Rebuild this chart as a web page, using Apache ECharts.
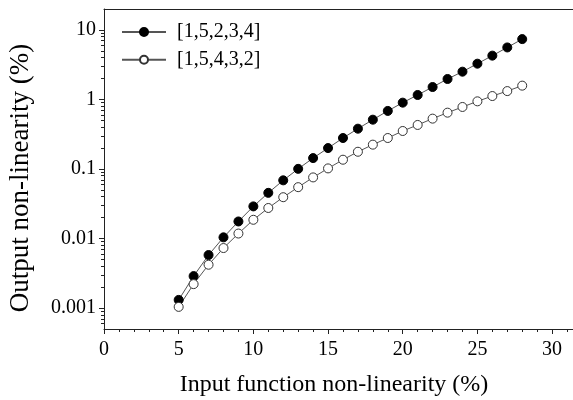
<!DOCTYPE html>
<html><head><meta charset="utf-8">
<script src="https://cdn.jsdelivr.net/npm/echarts@6/dist/echarts.min.js"></script>
<style>html,body{margin:0;padding:0;background:#fff}#c{width:573px;height:400px}</style>
</head><body><div id="c"></div>
<script>
const xValues = [5, 6, 7, 8, 9, 10, 11, 12, 13, 14, 15, 16, 17, 18, 19, 20, 21, 22, 23, 24, 25, 26, 27, 28];
const seriesA = [0.00131, 0.00288, 0.00579, 0.0104, 0.0176, 0.029, 0.0454, 0.0687, 0.1005, 0.1435, 0.200, 0.279, 0.380, 0.512, 0.684, 0.90, 1.16, 1.51, 1.97, 2.51, 3.27, 4.27, 5.60, 7.38];
const seriesB = [0.00104, 0.00221, 0.0042, 0.0073, 0.0118, 0.0186, 0.0275, 0.0393, 0.0548, 0.0757, 0.102, 0.136, 0.177, 0.224, 0.279, 0.352, 0.430, 0.530, 0.646, 0.780, 0.94, 1.12, 1.32, 1.58];
const seriesNames = ['[1,5,2,3,4]', '[1,5,4,3,2]'];
const xMajorTicks = [0, 5, 10, 15, 20, 25, 30];
const xMinorTicks = [1, 2, 3, 4, 6, 7, 8, 9, 11, 12, 13, 14, 16, 17, 18, 19, 21, 22, 23, 24, 26, 27, 28, 29, 31];
const yMajorTicks = [0.001, 0.01, 0.1, 1, 10];
const yMinorTicks = [0.0006, 0.0007, 0.0008, 0.0009,
  0.002, 0.003, 0.004, 0.005, 0.006, 0.007, 0.008, 0.009,
  0.02, 0.03, 0.04, 0.05, 0.06, 0.07, 0.08, 0.09,
  0.2, 0.3, 0.4, 0.5, 0.6, 0.7, 0.8, 0.9,
  2, 3, 4, 5, 6, 7, 8, 9];
const xTitle = 'Input function non-linearity (%)';
const yTitle = 'Output non-linearity (%)';

const FONT = 'Liberation Serif';
const AX = '#222';
const Y_MIN = 0.0005, Y_MAX = 20;
const chart = echarts.init(document.getElementById('c'), null, {renderer: 'canvas'});
const pairs = arr => xValues.map((x, i) => [x, arr[i]]);
const logVals = arr => arr.map(v => Math.log10(v));

// tick-only helper axes: linear in decades, same extent as the log axis
const tickAxis = (vals, len) => ({
  type: 'value', position: 'left', min: Math.log10(Y_MIN), max: Math.log10(Y_MAX),
  axisLine: {show: false, onZero: false},
  axisTick: {show: true, length: len, customValues: logVals(vals), lineStyle: {color: AX}},
  axisLabel: {show: false}, splitLine: {show: false}
});

chart.setOption({
  animation: false,
  backgroundColor: '#fff',
  grid: {left: 104, top: 9, bottom: 71, right: 0, containLabel: false},
  legend: {
    orient: 'vertical', left: 121, top: 22, padding: 0, itemWidth: 44, itemHeight: 10, itemGap: 7.7,
    data: seriesNames,
    textStyle: {fontFamily: FONT, fontSize: 20, color: '#000', lineHeight: 20, padding: [0, 0, 0, 6]}
  },
  xAxis: [{
    type: 'value', position: 'bottom', min: 0, max: 31.4,
    axisLine: {show: true, onZero: false, lineStyle: {color: AX, width: 1}},
    axisTick: {show: true, length: 5, customValues: xMajorTicks, lineStyle: {color: AX}},
    axisLabel: {fontFamily: FONT, fontSize: 20, color: '#000', margin: 11, customValues: xMajorTicks},
    splitLine: {show: false}
  }, {
    type: 'value', position: 'bottom', min: 0, max: 31.4,
    axisLine: {show: false, onZero: false},
    axisTick: {show: true, length: 3, customValues: xMinorTicks, lineStyle: {color: AX}},
    axisLabel: {show: false}, splitLine: {show: false}
  }, {
    type: 'value', position: 'top', min: 0, max: 31.4,
    axisLine: {show: true, onZero: false, lineStyle: {color: AX, width: 1}},
    axisTick: {show: false}, axisLabel: {show: false}, splitLine: {show: false}
  }],
  yAxis: [{
    type: 'log', position: 'left', min: Y_MIN, max: Y_MAX, logBase: 10,
    axisLine: {show: true, onZero: false, lineStyle: {color: AX, width: 1}},
    axisTick: {show: false},
    axisLabel: {fontFamily: FONT, fontSize: 20, color: '#000', margin: 8, customValues: yMajorTicks,
      formatter: v => String(v)},
    splitLine: {show: false}
  }, tickAxis(yMajorTicks, 5), tickAxis(yMinorTicks, 3)],
  series: [{
    name: seriesNames[0], type: 'line', data: pairs(seriesA), xAxisIndex: 0, yAxisIndex: 0,
    symbol: 'circle', symbolSize: 9,
    lineStyle: {color: '#555', width: 1},
    itemStyle: {color: '#000', borderColor: '#000', borderWidth: 1},
    emphasis: {disabled: true}
  }, {
    name: seriesNames[1], type: 'line', data: pairs(seriesB), xAxisIndex: 0, yAxisIndex: 0,
    symbol: 'circle', symbolSize: 9,
    lineStyle: {color: '#555', width: 1},
    itemStyle: {color: '#fff', borderColor: '#333', borderWidth: 1},
    emphasis: {disabled: true}
  }],
  graphic: [{
    type: 'text', x: 334, y: 385,
    style: {text: xTitle, font: '24px "Liberation Serif"', fill: '#000', textAlign: 'center', textVerticalAlign: 'middle'}
  }, {
    type: 'text', x: 21, y: 178, rotation: Math.PI / 2,
    style: {text: yTitle, font: '27px "Liberation Serif"', fill: '#000', textAlign: 'center', textVerticalAlign: 'middle'}
  }]
});
</script>
</body></html>
